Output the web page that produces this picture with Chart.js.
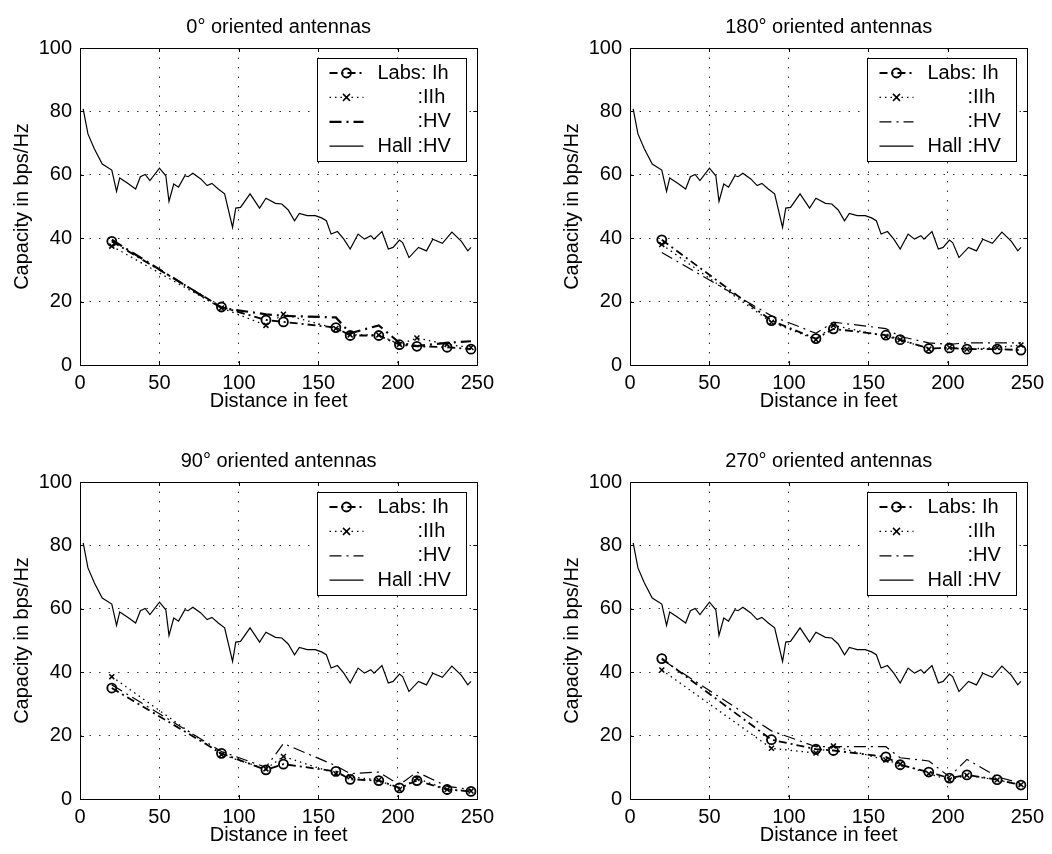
<!DOCTYPE html>
<html>
<head>
<meta charset="utf-8">
<script src="https://cdn.jsdelivr.net/npm/chart.js@4.4.1/dist/chart.umd.min.js"></script>
<style>
  html, body { margin: 0; padding: 0; background: #fff; }
  #wrap { position: relative; width: 1052px; height: 854px; overflow: hidden; }
  #wrap canvas { position: absolute; }
</style>
</head>
<body>
<div id="wrap">
  <canvas id="c0" width="500" height="420" style="left:0;top:0"></canvas>
  <canvas id="c1" width="500" height="420" style="left:550px;top:0"></canvas>
  <canvas id="c2" width="500" height="420" style="left:0;top:434px"></canvas>
  <canvas id="c3" width="500" height="420" style="left:550px;top:434px"></canvas>
</div>
<script>
// --- data ---
const xTicks = [0, 50, 100, 150, 200, 250];
const yTicks = [0, 20, 40, 60, 80, 100];

// Hall measurements (same curve in every panel)
const hallDist = [2, 5, 9, 14, 20, 23, 25, 30, 35, 38, 41, 44, 50, 54, 56, 59, 62, 66, 68, 71,
  76, 80, 83, 87, 91, 96, 98, 101, 107, 113, 117, 123, 127, 131, 135, 138, 143, 148, 152, 155,
  158, 162, 166, 170, 175, 179, 183, 185, 190, 194, 197, 201, 203, 207, 213, 218, 222, 228, 234, 240,
  244, 246];
const hallCap = [80.8, 72.9, 68.2, 63.4, 61.5, 54.8, 59.0, 57.3, 55.5, 59.4, 60.1, 58.2, 62.1, 59.7, 51.6, 57.1, 56.1, 59.7, 59.4, 60.5,
  58.7, 56.6, 57.3, 55.5, 54.0, 43.4, 49.5, 49.7, 54.0, 49.5, 52.6, 51.0, 50.8, 48.9, 45.5, 47.8, 47.1, 47.1, 46.4, 45.5,
  41.3, 42.1, 39.7, 36.6, 41.3, 39.7, 40.8, 39.7, 42.1, 36.6, 37.1, 39.4, 38.6, 33.9, 37.1, 36.0, 39.7, 38.4, 41.9, 39.0,
  36.0, 37.1];

// Labs measurement distances
const labsDist = [20, 89, 117, 128, 161, 170, 188, 201, 212, 231, 246];

// 0 deg
const ih0  = [39.0, 18.3, 14.2, 13.6, 11.8, 9.3, 9.3, 6.4, 5.9, 5.6, 5.0];
const iih0 = [37.5, 18.0, 12.5, 16.0, 11.5, 9.5, 9.5, 6.5, 8.5, 6.5, 5.5];
const hv0  = [39.5, 18.0, 16.0, 15.5, 15.0, 10.0, 12.5, 7.0, 6.0, 7.0, 7.5];
// 180 deg
const ih180  = [39.5, 14.0, 8.3, 11.4, 9.4, 8.0, 5.2, 5.4, 5.0, 5.0, 4.7];
const iih180 = [38.0, 13.5, 8.0, 12.5, 9.0, 8.0, 5.0, 5.5, 5.0, 5.5, 6.3];
const hv180  = [35.5, 15.5, 10.0, 13.5, 11.5, 9.0, 7.0, 6.5, 7.0, 7.0, 7.0];
// 90 deg
const ih90  = [35.0, 14.4, 9.2, 11.0, 8.7, 6.2, 5.8, 3.5, 5.8, 3.0, 2.4];
const iih90 = [38.6, 14.0, 9.5, 13.4, 8.0, 7.0, 6.0, 3.0, 6.5, 3.0, 2.5];
const hv90  = [36.0, 15.0, 10.0, 17.5, 10.5, 8.0, 8.5, 4.5, 8.5, 4.0, 3.0];
// 270 deg
const ih270  = [44.3, 18.7, 15.7, 15.3, 13.3, 10.8, 8.5, 6.6, 7.6, 6.1, 4.4];
const iih270 = [40.7, 16.0, 14.5, 16.7, 12.3, 11.0, 8.0, 6.0, 7.5, 6.0, 4.5];
const hv270  = [44.0, 21.5, 16.5, 16.5, 16.5, 13.0, 12.0, 7.0, 12.5, 7.0, 5.0];

const legendLabels = ['Labs: Ih', ':IIh', ':HV', 'Hall :HV'];

const FONT = "'Liberation Sans', Arial, Helvetica, sans-serif";
Chart.defaults.font.family = FONT;
Chart.defaults.font.size = 20;
Chart.defaults.color = '#000';

function toXY(xs, ys) {
  return xs.map((x, i) => ({ x: x, y: ys[i] }));
}

// box, inward ticks and the boxed legend (matlab style)
const frameAndLegend = {
  id: 'frameAndLegend',
  afterDraw(chart) {
    const ctx = chart.ctx;
    const a = chart.chartArea;
    const xs = chart.scales.x, ys = chart.scales.y;
    ctx.save();
    ctx.setLineDash([]);
    ctx.strokeStyle = '#000';
    ctx.lineWidth = 1;
    ctx.strokeRect(Math.round(a.left) + 0.5, Math.round(a.top) + 0.5, Math.round(a.width), Math.round(a.height));

    // inward tick marks on all four sides
    ctx.beginPath();
    xTicks.forEach(v => {
      const px = Math.round(xs.getPixelForValue(v)) + 0.5;
      ctx.moveTo(px, a.bottom); ctx.lineTo(px, a.bottom - 4);
      ctx.moveTo(px, a.top); ctx.lineTo(px, a.top + 4);
    });
    yTicks.forEach(v => {
      const py = Math.round(ys.getPixelForValue(v)) + 0.5;
      ctx.moveTo(a.left, py); ctx.lineTo(a.left + 4, py);
      ctx.moveTo(a.right, py); ctx.lineTo(a.right - 4, py);
    });
    ctx.stroke();

    // legend
    const bw = 149, bh = 103;
    const bx = Math.round(a.right - 11 - bw) + 0.5, by = Math.round(a.top + 10) + 0.5;
    ctx.fillStyle = '#fff';
    ctx.fillRect(bx, by, bw, bh);
    ctx.strokeRect(bx, by, bw, bh);
    ctx.font = '20px ' + FONT;
    ctx.textBaseline = 'middle';
    ctx.fillStyle = '#000';
    const colonX = bx + 60 + ctx.measureText('Hall ').width;
    chart.data.datasets.forEach((ds, i) => {
      const y = by + 14.5 + i * 24.4;
      ctx.save();
      ctx.strokeStyle = '#000';
      ctx.lineWidth = ds.borderWidth;
      ctx.setLineDash(ds.borderDash || []);
      ctx.beginPath();
      ctx.moveTo(bx + 12, y); ctx.lineTo(bx + 46, y);
      ctx.stroke();
      ctx.setLineDash([]);
      if (ds.pointRadius > 0) {
        const cx = bx + 29, r = ds.pointRadius;
        ctx.lineWidth = ds.pointBorderWidth;
        ctx.beginPath();
        if (ds.pointStyle === 'circle') {
          ctx.arc(cx, y, r, 0, Math.PI * 2);
        } else {
          ctx.moveTo(cx - r, y - r); ctx.lineTo(cx + r, y + r);
          ctx.moveTo(cx - r, y + r); ctx.lineTo(cx + r, y - r);
        }
        ctx.stroke();
      }
      ctx.restore();
      const label = legendLabels[i];
      ctx.fillText(label, label.startsWith(':') ? colonX : bx + 60, y);
    });
    ctx.restore();
  }
};

function makePanel(id, title, ih, iih, hv, hvWidth) {
  new Chart(document.getElementById(id), {
    type: 'line',
    data: {
      datasets: [
        { label: legendLabels[0], data: toXY(labsDist, ih), borderColor: '#000', borderWidth: 1.8,
          borderDash: [8, 4, 2, 4], pointStyle: 'circle', pointRadius: 4.5, pointBorderWidth: 1.8,
          pointBorderColor: '#000', pointBackgroundColor: 'rgba(0,0,0,0)' },
        { label: legendLabels[1], data: toXY(labsDist, iih), borderColor: '#000', borderWidth: 1.3,
          borderDash: [1.5, 4], pointStyle: 'crossRot', pointRadius: 3.5, pointBorderWidth: 1.5,
          pointBorderColor: '#000', pointBackgroundColor: 'rgba(0,0,0,0)' },
        { label: legendLabels[2], data: toXY(labsDist, hv), borderColor: '#000', borderWidth: hvWidth,
          borderDash: [12, 5, 2, 5], pointRadius: 0, pointBorderWidth: 0 },
        { label: legendLabels[3], data: toXY(hallDist, hallCap), borderColor: '#000', borderWidth: 1.2,
          pointRadius: 0, pointBorderWidth: 0 }
      ]
    },
    options: {
      responsive: false,
      animation: false,
      events: [],
      layout: { padding: { left: 0, right: 19, top: 0, bottom: 0 } },
      elements: { line: { tension: 0 } },
      scales: {
        x: {
          type: 'linear', min: 0, max: 250,
          afterBuildTicks: s => { s.ticks = xTicks.map(v => ({ value: v })); },
          afterFit: s => { s.height = 55; },
          ticks: { padding: 6, maxRotation: 0, autoSkip: false, color: '#000' },
          grid: { color: '#333', lineWidth: 1, drawTicks: false },
          border: { display: false, dash: [1.5, 8] },
          title: { display: true, text: 'Distance in feet', padding: { top: 0, bottom: 7 }, color: '#000' }
        },
        y: {
          type: 'linear', min: 0, max: 100,
          afterBuildTicks: s => { s.ticks = yTicks.map(v => ({ value: v })); },
          afterFit: s => { s.width = 80; },
          ticks: { padding: 8, color: '#000' },
          grid: { color: '#333', lineWidth: 1, drawTicks: false },
          border: { display: false, dash: [1.5, 8] },
          title: { display: true, text: 'Capacity in bps/Hz', padding: { top: 10, bottom: 0 }, color: '#000' }
        }
      },
      plugins: {
        legend: { display: false },
        tooltip: { enabled: false },
        title: { display: true, text: title, color: '#000', fullSize: false,
          font: { size: 20, weight: 'normal' }, padding: { top: 15.5, bottom: 8.5 } }
      }
    },
    plugins: [frameAndLegend]
  });
}

makePanel('c0', '0° oriented antennas', ih0, iih0, hv0, 2.2);
makePanel('c1', '180° oriented antennas', ih180, iih180, hv180, 1.2);
makePanel('c2', '90° oriented antennas', ih90, iih90, hv90, 1.2);
makePanel('c3', '270° oriented antennas', ih270, iih270, hv270, 1.2);
</script>
</body>
</html>
